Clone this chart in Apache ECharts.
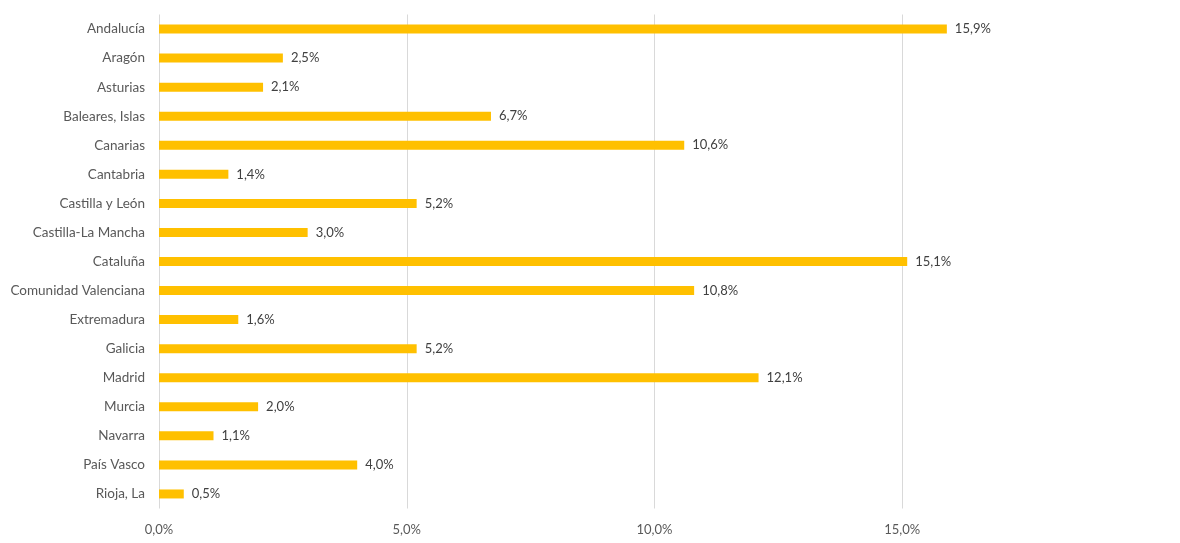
<!DOCTYPE html>
<html>
<head>
<meta charset="utf-8">
<script src="https://cdn.jsdelivr.net/npm/echarts@6/dist/echarts.min.js"></script>
<style>
  html, body { margin: 0; padding: 0; background: #fff; }
  #main { width: 1180px; height: 543px; }
</style>
</head>
<body>
<div id="main"></div>
<script>
let regions = ['Andalucía', 'Aragón', 'Asturias', 'Baleares, Islas', 'Canarias', 'Cantabria',
    'Castilla y León', 'Castilla-La Mancha', 'Cataluña', 'Comunidad Valenciana', 'Extremadura',
    'Galicia', 'Madrid', 'Murcia', 'Navarra', 'País Vasco', 'Rioja, La'];
let shares = [15.9, 2.5, 2.1, 6.7, 10.6, 1.4, 5.2, 3.0, 15.1, 10.8, 1.6, 5.2, 12.1, 2.0, 1.1, 4.0, 0.5];

function pct(v) {
    return v.toFixed(1).replace('.', ',') + '%';
}

window.addEventListener('load', function () {
    let chart = echarts.init(document.getElementById('main'));
    let option = {
        animation: false,
        textStyle: { fontFamily: 'Lato' },
        grid: { left: 159, right: 30, top: 14.5, bottom: 34.5 },
        xAxis: {
            type: 'value',
            min: 0,
            max: 20,
            interval: 5,
            axisLine: { show: false },
            axisTick: { show: false },
            axisLabel: {
                color: '#595959',
                fontSize: 13,
                margin: 15,
                showMaxLabel: false,
                formatter: pct
            },
            splitLine: {
                lineStyle: { color: ['#d9d9d9', '#d9d9d9', '#d9d9d9', '#d9d9d9', 'rgba(0,0,0,0)'], width: 1 }
            }
        },
        yAxis: {
            type: 'category',
            data: regions,
            inverse: true,
            axisLine: { show: false },
            axisTick: { show: false },
            axisLabel: { color: '#595959', fontSize: 13.5, margin: 14 }
        },
        series: [{
            type: 'bar',
            data: shares,
            barWidth: 9,
            itemStyle: { color: '#FFC000' },
            label: {
                show: true,
                position: 'right',
                distance: 8,
                color: '#404040',
                fontSize: 13,
                formatter: function (p) { return pct(p.value); }
            }
        }]
    };
    chart.setOption(option);
}, false);
</script>
</body>
</html>
